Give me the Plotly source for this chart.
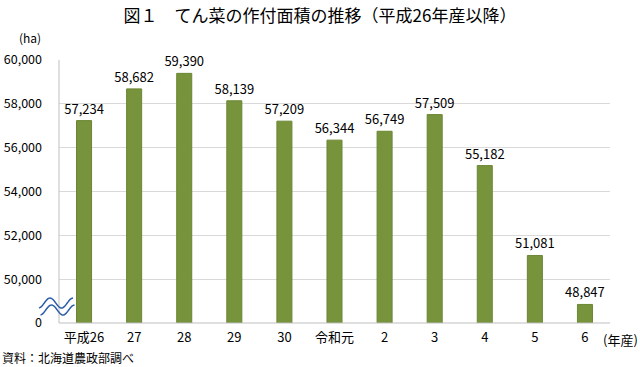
import math
import plotly.graph_objects as go

categories = ["平成26", "27", "28", "29", "30", "令和元", "2", "3", "4", "5", "6"]
area_ha = [57234, 58682, 59390, 58139, 57209, 56344, 56749, 57509, 55182, 51081, 48847]
tick_vals = [48000, 50000, 52000, 54000, 56000, 58000, 60000]
tick_text = ["0", "50,000", "52,000", "54,000", "56,000", "58,000", "60,000"]

FONT = "Noto Sans CJK JP"
W, H = 640, 367
L, R, T, B = 59, 30, 60, 44
PW, PH = W - L - R, H - T - B

def px(x, y):
    return (x - L) / PW, (H - B - y) / PH

def wave_path(dx, dy):
    pts = []
    n = 40
    for i in range(n + 1):
        x = 39 + dx + 34 * i / n
        y = 303 + dy - 5 * math.cos(2 * math.pi * (x - dx - 50) / 23)
        pts.append(px(x, y))
    return "M " + " L ".join(f"{a:.4f},{b:.4f}" for a, b in pts)

fig = go.Figure(go.Bar(
    x=categories, y=[v - 48000 for v in area_ha], base=48000,
    marker=dict(color="#77933c", line=dict(color="#6b8634", width=1)),
    width=0.3,
    text=[f"{v:,}" for v in area_ha], textposition="outside",
    constraintext="none",
    textfont=dict(size=13, color="#000"), cliponaxis=False,
    hoverinfo="skip",
))

fig.update_layout(
    width=W, height=H,
    margin=dict(l=L, r=R, t=T, b=B, autoexpand=False),
    paper_bgcolor="white", plot_bgcolor="white",
    font=dict(family=FONT, color="#000", size=12),
    showlegend=False,
    title=dict(text="図１　てん菜の作付面積の推移（平成26年産以降）",
               x=0.5, xanchor="center", y=0.955, yanchor="middle",
               font=dict(size=17, color="#000", weight="normal")),
    xaxis=dict(showline=False, ticks="", tickfont=dict(size=13), showgrid=False,
               automargin=False, ticklabelstandoff=5),
    yaxis=dict(range=[48000, 60000], tickvals=tick_vals, ticktext=tick_text,
               showgrid=True, gridcolor="#d9d9d9", gridwidth=1,
               showline=False, zeroline=False, ticks="", automargin=False,
               tickfont=dict(size=12.5), ticklabelstandoff=16),
    bargap=0.7,
    shapes=[
        dict(type="line", xref="paper", yref="paper", x0=0, x1=0, y0=0, y1=1,
             line=dict(color="#bfbfbf", width=1)),
        dict(type="line", xref="paper", yref="paper", x0=0, x1=1, y0=0, y1=0,
             line=dict(color="#bfbfbf", width=1)),
        dict(type="path", xref="paper", yref="paper", path=wave_path(0, 0),
             line=dict(color="#2a5ca8", width=1.5)),
        dict(type="path", xref="paper", yref="paper", path=wave_path(1.5, 7),
             line=dict(color="#2a5ca8", width=1.5)),
    ],
    annotations=[
        dict(text="(ha)", xref="paper", yref="paper", x=px(30, 0)[0], y=px(0, 37)[1],
             showarrow=False, xanchor="center", yanchor="middle", font=dict(size=12)),
        dict(text="(年産)", xref="paper", yref="paper", x=px(601, 0)[0], y=px(0, 339)[1],
             showarrow=False, xanchor="left", yanchor="middle", font=dict(size=13)),
        dict(text="資料：北海道農政部調べ", xref="paper", yref="paper", x=px(0, 0)[0], y=px(0, 357)[1],
             showarrow=False, xanchor="left", yanchor="middle", font=dict(size=12)),
    ],
)

fig.write_html("out.html", config={"displayModeBar": False},
               post_script="document.body.style.margin='0';document.body.style.overflow='hidden';")
